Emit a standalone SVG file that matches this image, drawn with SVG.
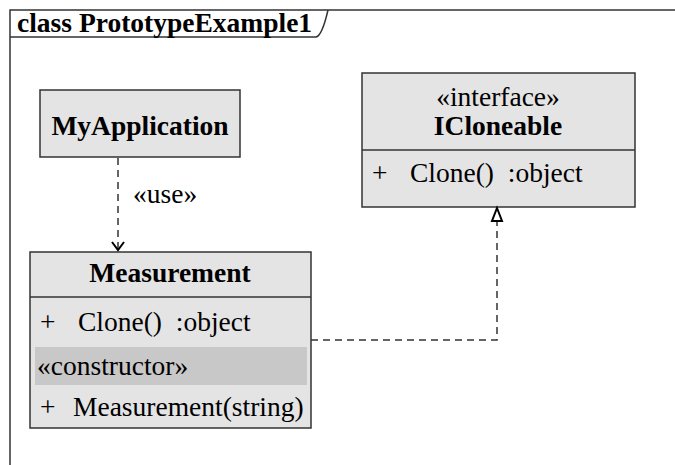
<svg xmlns="http://www.w3.org/2000/svg" width="675" height="465" viewBox="0 0 675 465" font-family="'Liberation Serif','DejaVu Serif',serif">
<style>
text{font-family:"Liberation Serif","DejaVu Serif",serif;font-size:27.5px;fill:#000}
.b{font-weight:bold}
.box{fill:#e4e4e4;stroke:#333;stroke-width:1.5}
.ln{stroke:#333;stroke-width:1.5;fill:none}
.dash{stroke:#333;stroke-width:1.5;fill:none;stroke-dasharray:7,5}
</style>
<defs>
<marker id="open" markerWidth="14" markerHeight="14" refX="12" refY="7" orient="auto" markerUnits="userSpaceOnUse" viewBox="0 0 14 14">
<path d="M4,1 L12,7 L4,13" fill="none" stroke="#000" stroke-width="2"/>
</marker>
</defs>
<g id="frame">
<path class="ln" d="M10,465 V10 H675"/>
<path class="ln" d="M10,37 H316 Q322,36 328,10"/>
<text class="b" x="17" y="32">class PrototypeExample1</text>
</g>
<g id="MyApplication">
<rect class="box" x="40" y="90" width="200" height="67"/>
<text class="b" x="140" y="135" text-anchor="middle">MyApplication</text>
</g>
<g id="ICloneable">
<rect class="box" x="362" y="73" width="273" height="134"/>
<line class="ln" x1="362" y1="150" x2="635" y2="150"/>
<text x="498" y="106" text-anchor="middle">«interface»</text>
<text class="b" x="498" y="135" text-anchor="middle">ICloneable</text>
<text x="372" y="182">+</text>
<text x="410" y="182" xml:space="preserve">Clone()  :object</text>
</g>
<g id="Measurement">
<rect class="box" x="30" y="252" width="281" height="176"/>
<line class="ln" x1="30" y1="297" x2="311" y2="297"/>
<rect x="35" y="347" width="272" height="38" fill="#c8c8c8"/>
<text class="b" x="170" y="282" text-anchor="middle">Measurement</text>
<text x="40" y="331">+</text>
<text x="78" y="331" xml:space="preserve">Clone()  :object</text>
<text x="37" y="375">«constructor»</text>
<text x="40" y="416">+</text>
<text x="73" y="416">Measurement(string)</text>
</g>
<g id="connectors">
<line class="dash" x1="118" y1="158" x2="118" y2="250" marker-end="url(#open)"/>
<text x="133" y="203">«use»</text>
<path class="dash" d="M311,340 H497 V222"/>
<path d="M497,208 L502,221 L492,221 Z" fill="#fff" stroke="#000" stroke-width="2"/>
</g>
</svg>
